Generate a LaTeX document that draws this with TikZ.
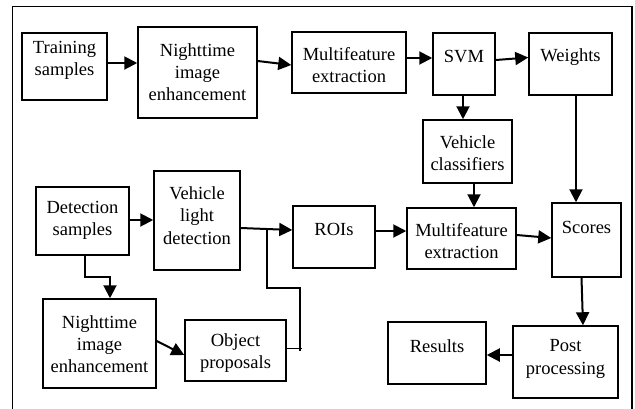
\documentclass[tikz,border=0pt]{standalone}
\usepackage{fontspec}
\setmainfont{Liberation Serif}
\usetikzlibrary{arrows.meta}
\begin{document}
\begin{tikzpicture}[x=1pt,y=-1pt,
  box/.style={draw,line width=1.5pt,inner sep=0pt,align=center},
  conn/.style={line width=2pt,-{Triangle[length=13pt,width=13pt]}},
  thinline/.style={line width=1.1pt},
  font=\fontsize{18.5}{22.3}\selectfont]
\useasboundingbox (0,0) rectangle (635,408);
% frame
\coordinate (f1) at (12.5,412);
\coordinate (f2) at (12.5,6.5);
\coordinate (f3) at (632,6.5);
\coordinate (f4) at (632,412);
\draw[line width=1.5pt] (f1) -- (f2) -- (f3) -- (f4);
% boxes
\node[box,minimum width=85,minimum height=67] (ts) at (64.5,66.5) {};
\node[align=center] (tst) at (64.5,60.5) {Training\\samples};
\node[box,minimum width=119,minimum height=91] (ne1) at (197.5,72.5) {};
\node[align=center] (ne1t) at (197.5,72) {Nighttime\\image\\enhancement};
\node[box,minimum width=114,minimum height=61] (mf1) at (349,62.5) {};
\node[align=center] (mf1t) at (349,65) {Multifeature\\extraction};
\node[box,minimum width=62,minimum height=62] (svm) at (464,64) {};
\node (svmt) at (464,57) {SVM};
\node[box,minimum width=83,minimum height=62] (wt) at (570.5,64) {};
\node (wtt) at (570.5,57) {Weights};
\node[box,minimum width=89,minimum height=63] (vc) at (467.5,151.5) {};
\node[align=center] (vct) at (467.5,153) {Vehicle\\classifiers};
\node[box,minimum width=69,minimum height=74] (sc) at (586.5,240) {};
\node (sct) at (586.5,227) {Scores};
\node[box,minimum width=109,minimum height=61] (mf2) at (461.5,238.5) {};
\node[align=center] (mf2t) at (461.5,241) {Multifeature\\extraction};
\node[box,minimum width=82,minimum height=62] (roi) at (334,237) {};
\node (roit) at (334,229) {ROIs};
\node[box,minimum width=93,minimum height=68] (ds) at (82.5,221) {};
\node[align=center] (dst) at (82.5,220) {Detection\\samples};
\node[box,minimum width=86,minimum height=99] (vld) at (197,220.5) {};
\node[align=center] (vldt) at (197,215.5) {Vehicle\\light\\detection};
\node[box,minimum width=113,minimum height=89] (ne2) at (99.5,343.5) {};
\node[align=center] (ne2t) at (99.5,344) {Nighttime\\image\\enhancement};
\node[box,minimum width=101,minimum height=61] (op) at (235.5,350.5) {};
\node[align=center] (opt) at (235.5,353) {Object\\proposals};
\node[box,minimum width=98,minimum height=62] (res) at (437,353) {};
\node (rest) at (437,346) {Results};
\node[box,minimum width=105,minimum height=72] (pp) at (565.5,362) {};
\node[align=center] (ppt) at (565.5,359) {Post\\processing};
% connectors
\draw[conn] ([yshift=3.5pt]ts.east) -- ([yshift=3.5pt]ts.east -| ne1.west);
\draw[conn] ([yshift=11.5pt]ne1.east) -- ([yshift=-2.5pt]mf1.west);
\draw[conn] ([yshift=4.5pt]mf1.east) -- ([yshift=6pt]svm.west);
\draw[conn] ([yshift=4pt]svm.east) -- ([yshift=6.5pt]wt.west);
\draw[conn] ([xshift=-1pt]svm.south) -- ([xshift=-1pt]svm.south |- vc.north);
\draw[conn] ([xshift=5.5pt]wt.south) -- ([xshift=5.5pt]wt.south |- sc.north);
\draw[conn] ([xshift=6.5pt]vc.south) -- ([xshift=6.5pt]vc.south |- mf2.north);
\draw[conn] ([yshift=6pt]roi.east) -- ([yshift=6pt]roi.east -| mf2.west);
\draw[conn] ([yshift=3.5pt]mf2.east) -- ([yshift=2pt]sc.west);
\draw[conn] ([xshift=-5pt]sc.south) -- ([xshift=17.5pt]pp.north);
\draw[conn] ([yshift=7pt]pp.west) -- ([yshift=-2pt]res.east);
\draw[conn] ([yshift=1pt]ds.east) -- ([yshift=1pt]ds.east -| vld.west);
\draw[conn] ([yshift=-7.5pt]vld.east) -- ([yshift=7pt]roi.west);
\coordinate (k1) at (110,277);
\draw[conn] ([xshift=2.5pt]ds.south) |- (k1) -- (k1 |- ne2.north);
\draw[conn] ([yshift=2.5pt]ne2.east) -- ([yshift=-4.5pt]op.west);
% thin loop from object proposals to the ROI line
\coordinate (j1) at (302,348.5);
\coordinate (j2) at (300,351);
\coordinate (j3) at (300,288);
\coordinate (j4) at (267,288);
\coordinate (j5) at (267,228.5);
\draw[thinline] ([yshift=2pt]op.east) -- (j1);
\draw[thinline] (j2) -- (j3) -- (j4) -- (j5);
\end{tikzpicture}
\end{document}
